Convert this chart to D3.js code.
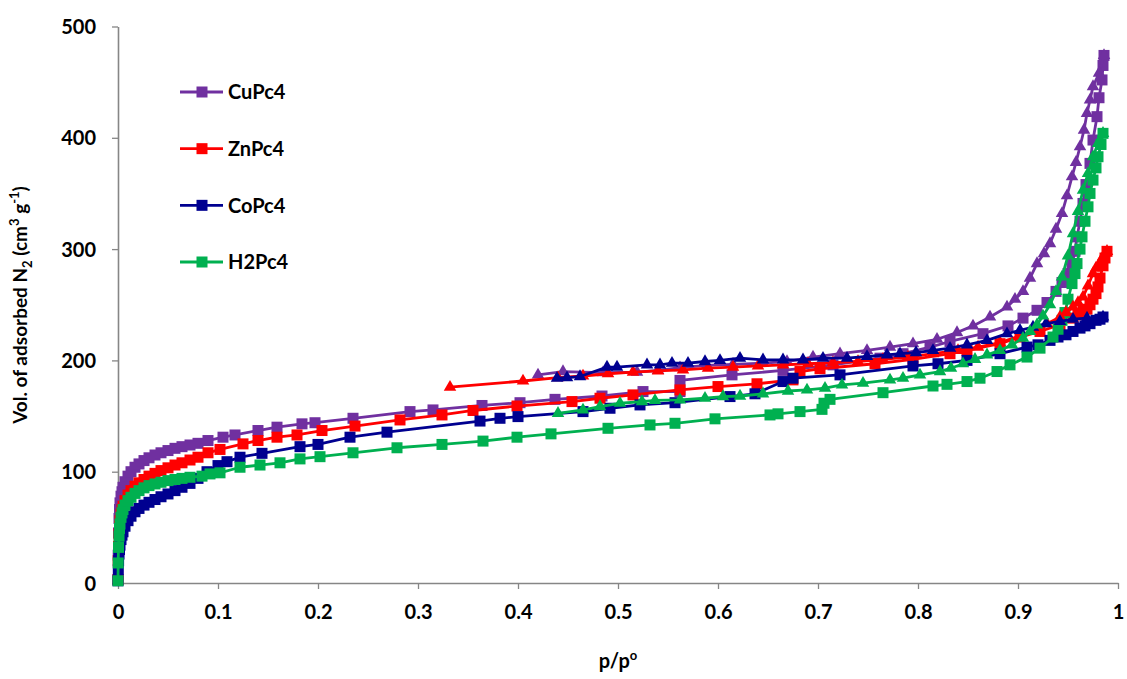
<!DOCTYPE html>
<html>
<head>
<meta charset="utf-8">
<script src="https://cdn.jsdelivr.net/npm/d3@7"></script>
<style>
  body { margin: 0; background: #ffffff; }
  text { font-family: Lato, "Open Sans", sans-serif; font-weight: 700; fill: #000; }
</style>
</head>
<body>
<svg id="chart" width="1127" height="679"></svg>
<script>
// N2 sorption isotherms: adsorption branches (squares) and desorption branches (triangles)
const seriesNames = ["CuPc4", "ZnPc4", "CoPc4", "H2Pc4"];
const seriesColors = ["#7030A0", "#FF0000", "#000090", "#00B050"];

const xTickValues = [0, 0.1, 0.2, 0.3, 0.4, 0.5, 0.6, 0.7, 0.8, 0.9, 1];
const xTickLabels = ["0", "0.1", "0.2", "0.3", "0.4", "0.5", "0.6", "0.7", "0.8", "0.9", "1"];
const yTickValues = [0, 100, 200, 300, 400, 500];
const yTickLabels = ["0", "100", "200", "300", "400", "500"];

// [p/p0, volume adsorbed]
const cuPc4Ads = [[0,3],[0.0002,25],[0.0005,45],[0.001,58],[0.0015,66],[0.002,72],[0.003,78],[0.004,82],[0.005,86],[0.007,91],[0.01,96],[0.013,100],[0.017,104],[0.021,107],[0.026,110],[0.031,112.5],[0.037,115],[0.043,117],[0.05,119],[0.057,121],[0.064,122.5],[0.072,124],[0.08,125.5],[0.09,128],[0.105,131],[0.117,133],[0.14,137],[0.159,140],[0.184,143],[0.197,144],[0.235,148],[0.292,154],[0.315,155.5],[0.364,159.5],[0.402,162],[0.437,165],[0.484,168],[0.525,172],[0.562,172],[0.562,182],[0.614,187],[0.665,191],[0.715,196],[0.762,202],[0.785,206],[0.812,212],[0.832,217],[0.865,224],[0.89,231],[0.905,238],[0.919,245],[0.929,252],[0.938,262],[0.944,270],[0.95,278],[0.954,287],[0.957,298],[0.959,311],[0.962,325],[0.965,341],[0.968,358],[0.972,377],[0.975,398],[0.979,419],[0.981,436],[0.984,452],[0.985,465],[0.986,474]];
const cuPc4Des = [[0.986,474],[0.981,458],[0.975,446],[0.972,434],[0.969,422],[0.966,407],[0.962,392],[0.958,378],[0.954,365],[0.949,348],[0.944,332],[0.938,318],[0.932,305],[0.926,296],[0.919,287],[0.912,274],[0.905,262],[0.897,255],[0.889,248],[0.872,239],[0.855,231],[0.839,225],[0.819,219],[0.795,215],[0.772,212],[0.749,209],[0.722,206],[0.695,203],[0.669,199],[0.645,197.5],[0.615,196.5],[0.589,195.5],[0.562,193.5],[0.54,191],[0.519,189.5],[0.485,189],[0.445,190],[0.42,187]];

const znPc4Ads = [[0,3],[0.0002,20],[0.0005,33],[0.001,44],[0.0015,51],[0.002,56],[0.003,62],[0.004,66],[0.005,69],[0.007,74],[0.01,79],[0.013,83],[0.017,87],[0.021,90],[0.026,93],[0.031,96],[0.037,98.5],[0.043,101],[0.05,103.5],[0.057,106],[0.064,108],[0.072,110.5],[0.08,113],[0.09,117],[0.102,120],[0.125,125],[0.14,128],[0.159,131],[0.179,133],[0.204,137],[0.237,141],[0.282,146.5],[0.324,151],[0.355,155],[0.399,159],[0.454,163],[0.482,166],[0.515,169],[0.562,173.5],[0.6,176.5],[0.639,179],[0.675,182.5],[0.682,190],[0.702,192.5],[0.757,197],[0.795,201],[0.832,206],[0.849,209],[0.882,215],[0.902,221],[0.922,226],[0.942,232],[0.955,238],[0.96,241],[0.965,244],[0.969,246],[0.972,250],[0.975,255],[0.978,260],[0.98,266],[0.982,274],[0.985,285],[0.987,292],[0.989,298]];
const znPc4Des = [[0.989,298],[0.985,293],[0.982,288],[0.978,283],[0.975,278],[0.97,267],[0.965,257],[0.96,252],[0.955,248],[0.948,243],[0.942,239],[0.929,233],[0.915,227],[0.902,222],[0.882,216],[0.86,212],[0.84,209],[0.815,206],[0.79,203],[0.765,201],[0.74,199],[0.715,198],[0.69,197],[0.665,196],[0.64,195],[0.615,194],[0.59,193],[0.565,191.5],[0.54,190.5],[0.515,189.5],[0.49,188],[0.465,186],[0.44,184.5],[0.405,181.5],[0.332,176]];

const coPc4Ads = [[0,2],[0.0003,12],[0.0006,20],[0.001,26],[0.0015,30],[0.002,34],[0.003,39],[0.004,43],[0.005,46],[0.007,51],[0.01,56],[0.013,60],[0.017,64],[0.021,67],[0.026,70],[0.031,72.5],[0.037,75],[0.043,77.5],[0.05,80],[0.057,83],[0.064,86],[0.072,89.5],[0.08,94],[0.089,100],[0.1,105.5],[0.109,109],[0.122,113],[0.144,116.5],[0.182,122.5],[0.2,124.5],[0.232,131],[0.269,135.5],[0.362,145.5],[0.382,148],[0.4,149.5],[0.465,154],[0.492,157],[0.522,160],[0.557,162],[0.612,167.5],[0.637,170],[0.665,181],[0.675,184],[0.722,187],[0.795,195],[0.82,197],[0.849,200],[0.882,206],[0.909,212],[0.92,214],[0.932,218],[0.94,221],[0.948,223],[0.955,226],[0.962,229],[0.967,231],[0.972,233],[0.978,236],[0.982,237],[0.985,239]];
const coPc4Des = [[0.985,239],[0.969,238],[0.955,237],[0.942,235],[0.928,233],[0.915,230],[0.902,227],[0.889,224],[0.869,218],[0.849,214],[0.832,211],[0.815,209],[0.798,207],[0.782,206],[0.769,205],[0.749,203.5],[0.729,202],[0.705,202],[0.685,200.5],[0.665,200.5],[0.645,200.5],[0.622,202],[0.602,200],[0.587,199],[0.57,197.5],[0.554,197.5],[0.542,196],[0.529,196],[0.499,194],[0.489,194],[0.462,185.5],[0.449,184.5],[0.439,184]];

const h2Pc4Ads = [[0,2],[0.0002,18],[0.0005,32],[0.001,42],[0.0015,49],[0.002,53],[0.003,59],[0.004,63],[0.005,66],[0.007,70],[0.01,74],[0.013,77],[0.017,80.5],[0.021,83],[0.026,85.5],[0.031,87.5],[0.037,89],[0.043,90.5],[0.05,92],[0.057,93],[0.064,94],[0.072,95],[0.084,96],[0.092,98],[0.102,99],[0.122,104],[0.142,106],[0.162,108],[0.182,111.5],[0.202,113.5],[0.235,117],[0.279,121.5],[0.324,124.5],[0.365,127.5],[0.399,131],[0.433,134],[0.49,139],[0.532,142],[0.557,143.5],[0.597,147.5],[0.652,151],[0.66,152],[0.682,154],[0.704,156],[0.706,161.5],[0.712,165],[0.765,171],[0.815,177],[0.829,178.5],[0.849,181],[0.862,184],[0.879,190],[0.892,196],[0.909,203],[0.922,211],[0.935,221],[0.94,228],[0.944,236],[0.947,243],[0.95,255],[0.954,269],[0.957,278],[0.959,287],[0.962,300],[0.964,311],[0.967,325],[0.97,338],[0.972,350],[0.975,362],[0.978,373],[0.98,383],[0.983,394],[0.985,404]];
const h2Pc4Des = [[0.985,404],[0.98,395],[0.975,383],[0.97,368],[0.965,353],[0.96,334],[0.955,314],[0.95,294],[0.944,275],[0.938,262],[0.932,250],[0.925,240],[0.919,232],[0.912,226],[0.905,220],[0.894,214],[0.882,209],[0.869,205],[0.857,201],[0.845,197],[0.833,193],[0.822,190],[0.802,187],[0.785,184],[0.772,182.5],[0.745,179.5],[0.724,178],[0.707,175],[0.689,173.5],[0.67,172.5],[0.645,170],[0.622,168],[0.605,167.5],[0.587,166],[0.562,164.5],[0.537,164],[0.524,163],[0.502,161.5],[0.482,158.5],[0.465,155.5],[0.44,152.5]];

const adsorption = [cuPc4Ads, znPc4Ads, coPc4Ads, h2Pc4Ads];
const desorption = [cuPc4Des, znPc4Des, coPc4Des, h2Pc4Des];

const svg = d3.select("#chart");
const x = d3.scaleLinear().domain([0, 1]).range([118, 1118]);
const y = d3.scaleLinear().domain([0, 500]).range([583, 26.5]);
const axisColor = "#868686";

// axes
const xAxis = svg.append("g")
  .attr("transform", `translate(0,${y(0)})`)
  .call(d3.axisBottom(x).tickValues(xTickValues)
    .tickFormat((d, i) => xTickLabels[i]).tickSize(6).tickSizeOuter(0).tickPadding(16));
const yAxis = svg.append("g")
  .attr("transform", `translate(${x(0)},0)`)
  .call(d3.axisLeft(y).tickValues(yTickValues)
    .tickFormat((d, i) => yTickLabels[i]).tickSize(6).tickSizeOuter(0).tickPadding(16));
[xAxis, yAxis].forEach(g => {
  g.select(".domain").attr("stroke", axisColor).attr("stroke-width", 1.6);
  g.selectAll(".tick line").attr("stroke", axisColor).attr("stroke-width", 1.3);
  g.selectAll(".tick text").attr("font-size", 20).attr("font-family", "Lato, sans-serif").attr("font-weight", 700).attr("fill", "#000");
});
yAxis.selectAll(".tick text").attr("dy", "0.35em");

// series
const line = d3.line().x(d => x(d[0])).y(d => y(d[1]));
const sq = 11;
const tri = d3.symbol().type(d3.symbolTriangle).size(68);

function drawBranch(data, color, marker) {
  const g = svg.append("g");
  g.append("path").datum(data).attr("d", line)
    .attr("fill", "none").attr("stroke", color).attr("stroke-width", 2.8).attr("stroke-linejoin", "round");
  if (marker === "square") {
    g.selectAll("rect").data(data).join("rect")
      .attr("x", d => x(d[0]) - sq / 2).attr("y", d => y(d[1]) - sq / 2)
      .attr("width", sq).attr("height", sq).attr("fill", color);
  } else {
    g.selectAll("path.m").data(data).join("path").attr("class", "m")
      .attr("d", tri)
      .attr("transform", d => `translate(${x(d[0])},${y(d[1])})`)
      .attr("fill", color);
  }
}
adsorption.forEach((s, i) => drawBranch(s, seriesColors[i], "square"));
desorption.forEach((s, i) => drawBranch(s, seriesColors[i], "triangle"));

// legend
const legendY = d3.scalePoint().domain(seriesNames).range([92, 262]);
const legend = svg.append("g");
seriesNames.forEach((name, i) => {
  const ly = legendY(name);
  legend.append("line").attr("x1", 180).attr("x2", 223).attr("y1", ly).attr("y2", ly)
    .attr("stroke", seriesColors[i]).attr("stroke-width", 2.8);
  legend.append("rect").attr("x", 202 - 5.5).attr("y", ly - 5.5).attr("width", 11).attr("height", 11)
    .attr("fill", seriesColors[i]);
  legend.append("text").attr("x", 228).attr("y", ly).attr("dy", "0.36em")
    .attr("font-size", 20).text(name);
});

// axis titles
const xTitle = svg.append("text").attr("x", 618).attr("y", 668).attr("text-anchor", "middle").attr("font-size", 20);
xTitle.append("tspan").text("p/p");
xTitle.append("tspan").attr("font-size", 13).attr("dy", -8).text("o");

const yTitle = svg.append("text").attr("transform", "translate(27,305) rotate(-90)")
  .attr("text-anchor", "middle").attr("font-size", 19);
yTitle.append("tspan").text("Vol. of adsorbed N");
yTitle.append("tspan").attr("font-size", 13).attr("dy", 5).text("2");
yTitle.append("tspan").attr("dy", -5).text(" (cm");
yTitle.append("tspan").attr("font-size", 13).attr("dy", -8).text("3");
yTitle.append("tspan").attr("dy", 8).text(" g");
yTitle.append("tspan").attr("font-size", 13).attr("dy", -8).text("-1");
yTitle.append("tspan").attr("dy", 8).text(")");
</script>
</body>
</html>
